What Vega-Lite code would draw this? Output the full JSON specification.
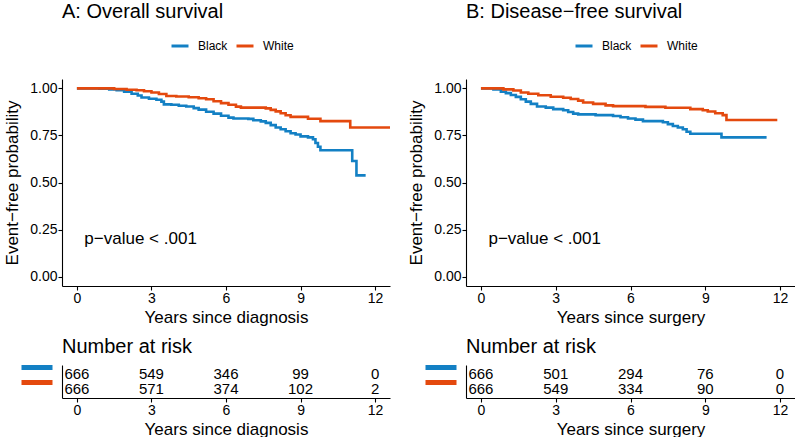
{
  "$schema": "https://vega.github.io/schema/vega-lite/v6.json",
  "padding": {"left": 3, "top": 2, "right": 0, "bottom": 0},
  "background": "white",
  "datasets": {
    "kmA": [
      {"group": "Black", "t": 0, "s": 1},
      {"group": "Black", "t": 0.9, "s": 0.998},
      {"group": "Black", "t": 1.3, "s": 0.995},
      {"group": "Black", "t": 1.6, "s": 0.99},
      {"group": "Black", "t": 1.9, "s": 0.983},
      {"group": "Black", "t": 2.2, "s": 0.972},
      {"group": "Black", "t": 2.45, "s": 0.962},
      {"group": "Black", "t": 2.6, "s": 0.952},
      {"group": "Black", "t": 2.9, "s": 0.945},
      {"group": "Black", "t": 3.2, "s": 0.94},
      {"group": "Black", "t": 3.4, "s": 0.93},
      {"group": "Black", "t": 3.5, "s": 0.915},
      {"group": "Black", "t": 3.8, "s": 0.913},
      {"group": "Black", "t": 4.1, "s": 0.908},
      {"group": "Black", "t": 4.4, "s": 0.904},
      {"group": "Black", "t": 4.7, "s": 0.895},
      {"group": "Black", "t": 4.9, "s": 0.887},
      {"group": "Black", "t": 5.2, "s": 0.876},
      {"group": "Black", "t": 5.5, "s": 0.866},
      {"group": "Black", "t": 5.8, "s": 0.855},
      {"group": "Black", "t": 6.1, "s": 0.845},
      {"group": "Black", "t": 6.3, "s": 0.84},
      {"group": "Black", "t": 6.9, "s": 0.838},
      {"group": "Black", "t": 7.1, "s": 0.831},
      {"group": "Black", "t": 7.4, "s": 0.825},
      {"group": "Black", "t": 7.6, "s": 0.817},
      {"group": "Black", "t": 7.8, "s": 0.805},
      {"group": "Black", "t": 8.0, "s": 0.792},
      {"group": "Black", "t": 8.2, "s": 0.783},
      {"group": "Black", "t": 8.4, "s": 0.772},
      {"group": "Black", "t": 8.6, "s": 0.762},
      {"group": "Black", "t": 8.8, "s": 0.755},
      {"group": "Black", "t": 9.0, "s": 0.745},
      {"group": "Black", "t": 9.3, "s": 0.74},
      {"group": "Black", "t": 9.5, "s": 0.73},
      {"group": "Black", "t": 9.6, "s": 0.71},
      {"group": "Black", "t": 9.7, "s": 0.69},
      {"group": "Black", "t": 9.8, "s": 0.671},
      {"group": "Black", "t": 11.08, "s": 0.614},
      {"group": "Black", "t": 11.25, "s": 0.538},
      {"group": "Black", "t": 11.62, "s": 0.538},
      {"group": "White", "t": 0, "s": 1},
      {"group": "White", "t": 1.5, "s": 0.997},
      {"group": "White", "t": 2.0, "s": 0.993},
      {"group": "White", "t": 2.4, "s": 0.99},
      {"group": "White", "t": 2.7, "s": 0.985},
      {"group": "White", "t": 3.0, "s": 0.978},
      {"group": "White", "t": 3.3, "s": 0.97},
      {"group": "White", "t": 3.6, "s": 0.96},
      {"group": "White", "t": 4.0, "s": 0.957},
      {"group": "White", "t": 4.5, "s": 0.953},
      {"group": "White", "t": 4.9, "s": 0.948},
      {"group": "White", "t": 5.2, "s": 0.942},
      {"group": "White", "t": 5.5, "s": 0.932},
      {"group": "White", "t": 5.8, "s": 0.922},
      {"group": "White", "t": 6.1, "s": 0.913},
      {"group": "White", "t": 6.4, "s": 0.903},
      {"group": "White", "t": 6.6, "s": 0.898},
      {"group": "White", "t": 7.6, "s": 0.894},
      {"group": "White", "t": 7.8, "s": 0.886},
      {"group": "White", "t": 8.0, "s": 0.878},
      {"group": "White", "t": 8.2, "s": 0.868},
      {"group": "White", "t": 8.4, "s": 0.857},
      {"group": "White", "t": 8.6, "s": 0.849},
      {"group": "White", "t": 9.3, "s": 0.839},
      {"group": "White", "t": 9.8, "s": 0.826},
      {"group": "White", "t": 11.0, "s": 0.792},
      {"group": "White", "t": 12.6, "s": 0.792}
    ],
    "kmB": [
      {"group": "Black", "t": 0, "s": 1},
      {"group": "Black", "t": 0.5, "s": 0.995},
      {"group": "Black", "t": 0.8, "s": 0.982},
      {"group": "Black", "t": 1.0, "s": 0.975},
      {"group": "Black", "t": 1.2, "s": 0.965},
      {"group": "Black", "t": 1.4, "s": 0.955},
      {"group": "Black", "t": 1.6, "s": 0.942},
      {"group": "Black", "t": 1.8, "s": 0.93},
      {"group": "Black", "t": 2.0, "s": 0.918},
      {"group": "Black", "t": 2.25, "s": 0.904},
      {"group": "Black", "t": 2.6, "s": 0.898},
      {"group": "Black", "t": 2.9, "s": 0.89},
      {"group": "Black", "t": 3.3, "s": 0.884},
      {"group": "Black", "t": 3.5, "s": 0.875},
      {"group": "Black", "t": 3.7, "s": 0.866},
      {"group": "Black", "t": 3.9, "s": 0.862},
      {"group": "Black", "t": 4.6, "s": 0.858},
      {"group": "Black", "t": 5.3, "s": 0.853},
      {"group": "Black", "t": 5.6, "s": 0.847},
      {"group": "Black", "t": 5.9, "s": 0.84},
      {"group": "Black", "t": 6.2, "s": 0.834},
      {"group": "Black", "t": 6.5, "s": 0.826},
      {"group": "Black", "t": 7.3, "s": 0.82},
      {"group": "Black", "t": 7.5, "s": 0.81},
      {"group": "Black", "t": 7.7, "s": 0.8},
      {"group": "Black", "t": 7.9, "s": 0.792},
      {"group": "Black", "t": 8.1, "s": 0.783},
      {"group": "Black", "t": 8.25, "s": 0.77},
      {"group": "Black", "t": 8.4, "s": 0.759},
      {"group": "Black", "t": 9.65, "s": 0.74},
      {"group": "Black", "t": 11.46, "s": 0.74},
      {"group": "White", "t": 0, "s": 1},
      {"group": "White", "t": 0.9, "s": 0.995},
      {"group": "White", "t": 1.3, "s": 0.989},
      {"group": "White", "t": 1.6, "s": 0.978},
      {"group": "White", "t": 1.9, "s": 0.972},
      {"group": "White", "t": 2.3, "s": 0.964},
      {"group": "White", "t": 2.8, "s": 0.956},
      {"group": "White", "t": 3.3, "s": 0.95},
      {"group": "White", "t": 3.6, "s": 0.944},
      {"group": "White", "t": 3.9, "s": 0.935},
      {"group": "White", "t": 4.1, "s": 0.925},
      {"group": "White", "t": 4.5, "s": 0.918},
      {"group": "White", "t": 5.0, "s": 0.91},
      {"group": "White", "t": 5.3, "s": 0.906},
      {"group": "White", "t": 6.6, "s": 0.902},
      {"group": "White", "t": 7.4, "s": 0.897},
      {"group": "White", "t": 8.4, "s": 0.89},
      {"group": "White", "t": 8.9, "s": 0.884},
      {"group": "White", "t": 9.1, "s": 0.877},
      {"group": "White", "t": 9.4, "s": 0.868},
      {"group": "White", "t": 9.7, "s": 0.858},
      {"group": "White", "t": 9.85, "s": 0.832},
      {"group": "White", "t": 11.89, "s": 0.832}
    ],
    "riskA": [
      {"group": "Black", "t": 0, "n": "666"},
      {"group": "Black", "t": 3, "n": "549"},
      {"group": "Black", "t": 6, "n": "346"},
      {"group": "Black", "t": 9, "n": "99"},
      {"group": "Black", "t": 12, "n": "0"},
      {"group": "White", "t": 0, "n": "666"},
      {"group": "White", "t": 3, "n": "571"},
      {"group": "White", "t": 6, "n": "374"},
      {"group": "White", "t": 9, "n": "102"},
      {"group": "White", "t": 12, "n": "2"}
    ],
    "riskB": [
      {"group": "Black", "t": 0, "n": "666"},
      {"group": "Black", "t": 3, "n": "501"},
      {"group": "Black", "t": 6, "n": "294"},
      {"group": "Black", "t": 9, "n": "76"},
      {"group": "Black", "t": 12, "n": "0"},
      {"group": "White", "t": 0, "n": "666"},
      {"group": "White", "t": 3, "n": "549"},
      {"group": "White", "t": 6, "n": "334"},
      {"group": "White", "t": 9, "n": "90"},
      {"group": "White", "t": 12, "n": "0"}
    ],
    "pval": [
      {"t": 0.3, "s": 0.2, "label": "p−value < .001"}
    ]
  },
  "spacing": 17,
  "resolve": {"scale": {"color": "independent"}, "legend": {"color": "independent"}},
  "hconcat": [
    {
      "spacing": 11,
      "resolve": {"scale": {"color": "independent"}, "legend": {"color": "independent"}},
      "vconcat": [
        {
          "title": {"text": "A: Overall survival", "anchor": "start", "fontSize": 20, "fontWeight": "normal", "frame": "group", "offset": 14, "color": "black"},
          "width": 328,
          "height": 207,
          "layer": [
            {
              "data": {"name": "kmA"},
              "mark": {"type": "line", "interpolate": "step-after", "strokeWidth": 2.6, "clip": true},
              "encoding": {
                "x": {"field": "t", "type": "quantitative", "scale": {"domain": [-0.6, 12.6], "nice": false, "zero": false}, "axis": {"values": [0, 3, 6, 9, 12], "title": "Years since diagnosis"}},
                "y": {"field": "s", "type": "quantitative", "scale": {"domain": [-0.05, 1.05], "nice": false}, "axis": {"values": [0, 0.25, 0.5, 0.75, 1], "format": ".2f", "title": "Event−free probability", "titlePadding": 8}},
                "color": {"field": "group", "type": "nominal", "scale": {"domain": ["Black", "White"], "range": ["#1380C4", "#E4490E"]},
                  "legend": {"orient": "none", "legendX": 108, "legendY": -43, "direction": "horizontal", "title": null, "labelFontSize": 12, "labelColor": "black", "symbolType": "stroke", "symbolStrokeWidth": 3, "symbolSize": 289, "labelOffset": 8, "columnPadding": 2}}
              }
            },
            {
              "data": {"name": "pval"},
              "mark": {"type": "text", "align": "left", "baseline": "middle", "fontSize": 17, "color": "black"},
              "encoding": {
                "x": {"field": "t", "type": "quantitative"},
                "y": {"field": "s", "type": "quantitative"},
                "text": {"field": "label"}
              }
            }
          ]
        },
        {
          "title": {"text": "Number at risk", "anchor": "start", "fontSize": 20, "fontWeight": "normal", "frame": "group", "offset": 8, "color": "black"},
          "width": 328,
          "height": 33,
          "data": {"name": "riskA"},
          "mark": {"type": "text", "fontSize": 15, "baseline": "middle", "color": "black"},
          "encoding": {
            "x": {"field": "t", "type": "quantitative", "scale": {"domain": [-0.6, 12.6], "nice": false, "zero": false}, "axis": {"values": [0, 3, 6, 9, 12], "title": "Years since diagnosis"}},
            "y": {"field": "group", "type": "nominal", "scale": {"type": "point", "domain": ["Black", "White"], "padding": 0.6},
              "axis": {"title": null, "labels": false, "tickSize": 41, "tickWidth": 5, "tickDash": [0, 10, 31, 60], "tickOffset": -7,
                "tickColor": {"condition": {"test": "datum.value === 'Black'", "value": "#1380C4"}, "value": "#E4490E"}}},
            "text": {"field": "n", "type": "nominal"}
          }
        }
      ]
    },
    {
      "spacing": 11,
      "resolve": {"scale": {"color": "independent"}, "legend": {"color": "independent"}},
      "vconcat": [
        {
          "title": {"text": "B: Disease−free survival", "anchor": "start", "fontSize": 20, "fontWeight": "normal", "frame": "group", "offset": 14, "color": "black"},
          "width": 329,
          "height": 207,
          "layer": [
            {
              "data": {"name": "kmB"},
              "mark": {"type": "line", "interpolate": "step-after", "strokeWidth": 2.6, "clip": true},
              "encoding": {
                "x": {"field": "t", "type": "quantitative", "scale": {"domain": [-0.6, 12.6], "nice": false, "zero": false}, "axis": {"values": [0, 3, 6, 9, 12], "title": "Years since surgery"}},
                "y": {"field": "s", "type": "quantitative", "scale": {"domain": [-0.05, 1.05], "nice": false}, "axis": {"values": [0, 0.25, 0.5, 0.75, 1], "format": ".2f", "title": "Event−free probability", "titlePadding": 8}},
                "color": {"field": "group", "type": "nominal", "scale": {"domain": ["Black", "White"], "range": ["#1380C4", "#E4490E"]},
                  "legend": {"orient": "none", "legendX": 108, "legendY": -43, "direction": "horizontal", "title": null, "labelFontSize": 12, "labelColor": "black", "symbolType": "stroke", "symbolStrokeWidth": 3, "symbolSize": 289, "labelOffset": 8, "columnPadding": 2}}
              }
            },
            {
              "data": {"name": "pval"},
              "mark": {"type": "text", "align": "left", "baseline": "middle", "fontSize": 17, "color": "black"},
              "encoding": {
                "x": {"field": "t", "type": "quantitative"},
                "y": {"field": "s", "type": "quantitative"},
                "text": {"field": "label"}
              }
            }
          ]
        },
        {
          "title": {"text": "Number at risk", "anchor": "start", "fontSize": 20, "fontWeight": "normal", "frame": "group", "offset": 8, "color": "black"},
          "width": 329,
          "height": 33,
          "data": {"name": "riskB"},
          "mark": {"type": "text", "fontSize": 15, "baseline": "middle", "color": "black"},
          "encoding": {
            "x": {"field": "t", "type": "quantitative", "scale": {"domain": [-0.6, 12.6], "nice": false, "zero": false}, "axis": {"values": [0, 3, 6, 9, 12], "title": "Years since surgery"}},
            "y": {"field": "group", "type": "nominal", "scale": {"type": "point", "domain": ["Black", "White"], "padding": 0.6},
              "axis": {"title": null, "labels": false, "tickSize": 41, "tickWidth": 5, "tickDash": [0, 10, 31, 60], "tickOffset": -7,
                "tickColor": {"condition": {"test": "datum.value === 'Black'", "value": "#1380C4"}, "value": "#E4490E"}}},
            "text": {"field": "n", "type": "nominal"}
          }
        }
      ]
    }
  ],
  "config": {
    "font": "Liberation Sans",
    "view": {"stroke": null},
    "axis": {
      "grid": false,
      "domainColor": "black",
      "domainWidth": 1.1,
      "tickColor": "black",
      "tickWidth": 1.1,
      "tickSize": 4,
      "labelColor": "black",
      "titleColor": "black",
      "labelFontSize": 14,
      "titleFontSize": 17,
      "titleFontWeight": "normal",
      "labelPadding": 1,
      "titlePadding": 4
    }
  }
}
